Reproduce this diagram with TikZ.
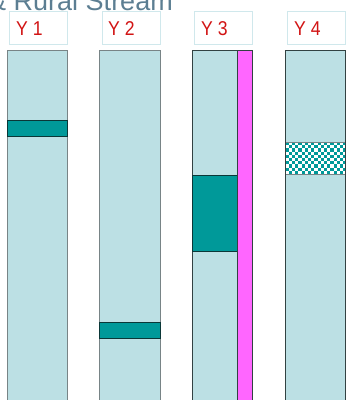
\documentclass[tikz,border=0pt]{standalone}
\usepackage{fontspec}
\usepackage{graphicx}
\setmainfont{Liberation Sans}
\definecolor{barfill}{RGB}{188,224,228}
\definecolor{tealc}{RGB}{0,153,153}
\definecolor{magc}{RGB}{255,102,255}
\definecolor{lblborder}{RGB}{208,232,236}
\definecolor{titlec}{RGB}{92,126,146}
\definecolor{lblred}{RGB}{210,20,20}
\definecolor{edgegray}{RGB}{120,132,134}
\definecolor{edgedark}{RGB}{50,66,66}
\definecolor{banddark}{RGB}{10,55,55}
\newcommand{\narrowlbl}[1]{\scalebox{0.88}[1]{#1}}
\tikzset{
  lblbox/.style={draw=lblborder, line width=0.8pt, fill=white},
  lbltext/.style={anchor=base west, inner sep=0pt, text=lblred, font=\fontsize{20}{22}\selectfont},
  barlight/.style={draw=edgegray, line width=1pt, fill=barfill},
  bardark/.style={draw=edgedark, line width=1pt, fill=barfill},
  band/.style={draw=banddark, line width=1pt, fill=tealc},
  magbar/.style={draw=edgedark, line width=1pt, fill=magc}
}
\begin{document}
\begin{tikzpicture}[x=1pt,y=-1pt]
\useasboundingbox (0,0) rectangle (347,400);
\clip (0,0) rectangle (347,400);
% title (clipped at the top, as in the reference)
\node[anchor=base east, inner sep=0pt, text=titlec, font=\fontsize{27}{30}\selectfont] (title) at (173,10) {\& Rural Stream};
% label boxes
\draw[lblbox] (9,11) rectangle (67,44);
\draw[lblbox] (102,11) rectangle (160,44);
\draw[lblbox] (194,11) rectangle (252,44);
\draw[lblbox] (287,11) rectangle (345,44);
\node[lbltext] (y1) at (16,35) {\narrowlbl{Y 1}};
\node[lbltext] (y2) at (108,35) {\narrowlbl{Y 2}};
\node[lbltext] (y3) at (201,35) {\narrowlbl{Y 3}};
\node[lbltext] (y4) at (294,35) {\narrowlbl{Y 4}};
% bar Y1
\draw[barlight] (7,50) rectangle (67,405);
\draw[band] (7,120.5) rectangle (67,136);
% bar Y2
\draw[barlight] (99.5,50) rectangle (160,405);
\draw[band] (99.5,322) rectangle (160,338);
% bar Y3
\draw[bardark] (192.5,50) rectangle (237,405);
\draw[band] (192.5,175) rectangle (237,251);
\draw[magbar] (237,50) rectangle (252,405);
% bar Y4
\draw[bardark] (285.5,50) rectangle (345.5,405);
\begin{scope}
  \clip (285.5,142) rectangle (345.5,174);
  \fill[white] (285.5,142) rectangle (345.5,174);
  \foreach \i in {0,...,18} {
    \foreach \j in {0,...,9} {
      \pgfmathtruncatemacro{\parity}{mod(\i+\j,2)}
      \ifnum\parity=0
        \fill[tealc] ({285.5+\i*3.2},{142+\j*3.2}) rectangle ++(3.2,3.2);
      \fi
    }
  }
\end{scope}
\draw[edgegray, line width=1pt] (285.5,142) -- (345.5,142);
\draw[edgegray, line width=1pt] (285.5,174) -- (345.5,174);
\draw[edgedark, line width=1pt] (285.5,50) -- (285.5,405);
\draw[edgedark, line width=1pt] (345.5,50) -- (345.5,405);
\end{tikzpicture}
\end{document}
